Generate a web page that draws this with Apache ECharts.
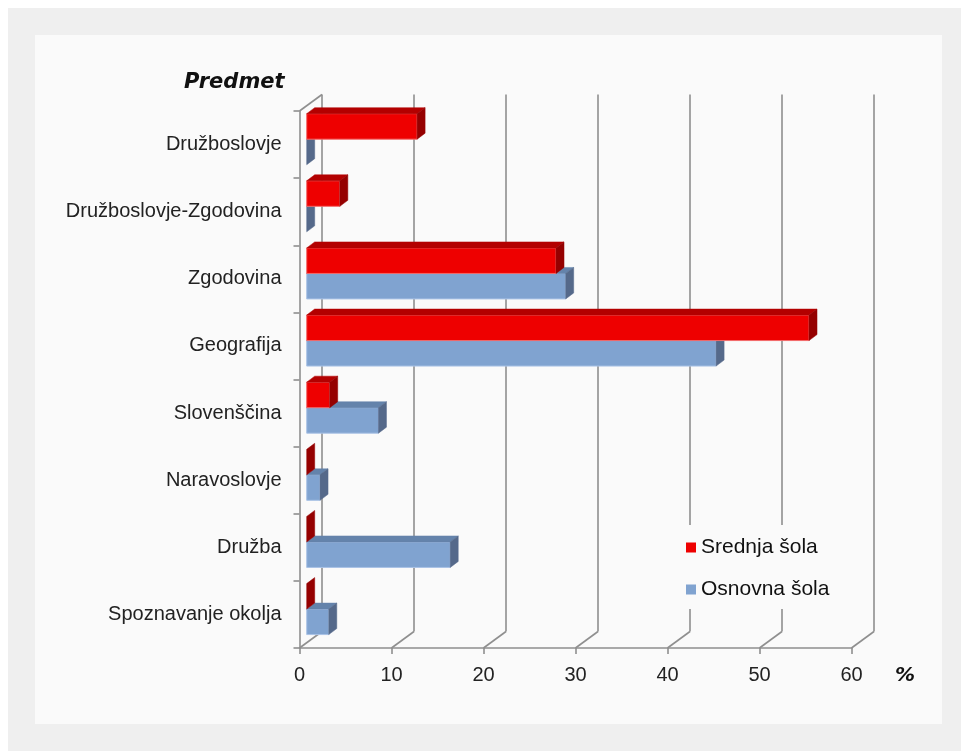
<!DOCTYPE html>
<html>
<head>
<meta charset="utf-8">
<script src="https://cdn.jsdelivr.net/npm/echarts@6/dist/echarts.min.js"></script>
<style>
html,body{margin:0;padding:0;background:#ffffff;}
#bg{position:absolute;left:8px;top:8px;width:953px;height:743px;background:#efefef;}
#chart{position:absolute;left:0;top:0;width:961px;height:751px;}
</style>
</head>
<body>
<div id="bg"></div>
<div id="chart"></div>
<script>
const categories = ['Družboslovje','Družboslovje-Zgodovina','Zgodovina','Geografija','Slovenščina','Naravoslovje','Družba','Spoznavanje okolja'];
const seriesNames = ['Srednja šola','Osnovna šola'];
const srednjaSola = [12.0, 3.6, 27.1, 54.6, 2.5, 0, 0, 0];
const osnovnaSola = [0, 0, 28.15, 44.5, 7.8, 1.45, 15.6, 2.4];
const xTicks = [0, 10, 20, 30, 40, 50, 60];
const yTitle = 'Predmet';
const xUnit = '%';

const GRID = {left: 299.5, top: 111, width: 552, height: 537};
const WALL_D = [22.5, -16.5];   // depth of the chart walls
const BAR_DX = 7.2;             // bar zero offset from front axis
const BAR_D = [8, -6];          // depth of the bars
const BAR_TOP = 0.04, BAR_H = 0.38;
const GRID_COLOR = '#8f8f8f';

const styles = [
  {front:'#ee0000', top:'#b30000', side:'#950000', stroke:'#f36a6a'},
  {front:'#80a3d0', top:'#6483ab', side:'#55698a', stroke:'#aac3e6'}
];

function makeBarRender(idx) {
  return function(params, api) {
    const v = api.value(0), c = api.value(1);
    const p0 = api.coord([0, c]);
    const p1 = api.coord([v, c]);
    const band = api.size([0, 1])[1];
    const x0 = p0[0] + BAR_DX, x1 = p1[0] + BAR_DX;
    const yTop = p0[1] - band / 2 + band * BAR_TOP + idx * band * BAR_H;
    const yBot = yTop + band * BAR_H;
    const s = styles[idx];
    const dx = BAR_D[0], dy = BAR_D[1];
    const children = [];
    if (x1 - x0 > 0.5) {
      children.push({type:'rect', shape:{x:x0, y:yTop, width:x1-x0, height:yBot-yTop},
        style:{fill:s.front, stroke:s.stroke, lineWidth:1}});
      children.push({type:'polygon', shape:{points:[[x0,yTop],[x0+dx,yTop+dy],[x1+dx,yTop+dy],[x1,yTop]]},
        style:{fill:s.top, stroke:s.top, lineWidth:0.5}});
    }
    children.push({type:'polygon', shape:{points:[[x1,yTop],[x1+dx,yTop+dy],[x1+dx,yBot+dy],[x1,yBot]]},
      style:{fill:s.side, stroke:s.side, lineWidth:0.5}});
    return {type:'group', children: children};
  };
}

function wallRender(params, api) {
  const n = categories.length;
  const children = [];
  const ls = {stroke: GRID_COLOR, lineWidth: 1.6, fill: null};
  const yTopFront = api.coord([0, 0])[1] - api.size([0,1])[1] / 2;
  const yBotFront = api.coord([0, n - 1])[1] + api.size([0,1])[1] / 2;
  xTicks.forEach(function(t) {
    const fx = api.coord([t, 0])[0];
    const bx = fx + WALL_D[0];
    children.push({type:'line', shape:{x1:bx, y1:yTopFront + WALL_D[1], x2:bx, y2:yBotFront + WALL_D[1]}, style:ls});
    children.push({type:'line', shape:{x1:fx, y1:yBotFront, x2:bx, y2:yBotFront + WALL_D[1]}, style:ls});
  });
  const fx0 = api.coord([0, 0])[0];
  children.push({type:'line', shape:{x1:fx0, y1:yTopFront, x2:fx0 + WALL_D[0], y2:yTopFront + WALL_D[1]}, style:ls});
  return {type:'group', children: children};
}

const chart = echarts.init(document.getElementById('chart'), null, {renderer:'canvas'});
const labelFont = 'Liberation Sans, Arial, sans-serif';
chart.setOption({
  backgroundColor: 'transparent',
  animation: false,
  graphic: [
    {type:'rect', left:35, top:35, z:-10, shape:{width:907, height:689}, style:{fill:'#fafafa'}},
    {type:'text', left:184, top:72, z:10, style:{text:yTitle, font:'italic bold 21px "DejaVu Sans"', fill:'#111'}},
    {type:'text', left:895, top:666, z:10, style:{text:xUnit, font:'italic bold 20px "DejaVu Sans"', fill:'#111'}}
  ],
  grid: GRID,
  legend: {
    orient: 'vertical', left: 680, top: 525,
    data: seriesNames,
    icon: 'rect', itemWidth: 10, itemHeight: 10, itemGap: 21,
    backgroundColor: '#fafafa', padding: [12, 8, 9, 6],
    textStyle: {fontSize: 21, fontFamily: labelFont, color: '#111', lineHeight: 20, padding:[0,0,0,0]},
    selectedMode: false
  },
  xAxis: {
    type: 'value', min: xTicks[0], max: xTicks[xTicks.length-1], interval: 10,
    axisLine: {show: true, lineStyle: {color: GRID_COLOR, width: 1.6}},
    axisTick: {show: true, length: 6, lineStyle: {color: GRID_COLOR, width: 1.6}},
    axisLabel: {fontSize: 20, fontFamily: labelFont, color: '#222', margin: 17},
    splitLine: {show: false}
  },
  yAxis: {
    type: 'category', data: categories, inverse: true,
    axisLine: {show: true, lineStyle: {color: GRID_COLOR, width: 1.6}},
    axisTick: {show: true, length: 6, lineStyle: {color: GRID_COLOR, width: 1.6}},
    axisLabel: {fontSize: 20, fontFamily: labelFont, color: '#222', margin: 18},
    splitLine: {show: false}
  },
  series: [
    {type:'custom', name:'walls', renderItem: wallRender, data:[[0,0]], encode:{x:0,y:1}, silent:true, z:1},
    {type:'custom', name: seriesNames[1], itemStyle:{color: styles[1].front},
      renderItem: makeBarRender(1), encode:{x:0,y:1}, z:2,
      data: osnovnaSola.map(function(v,i){return [v,i];})},
    {type:'custom', name: seriesNames[0], itemStyle:{color: styles[0].front},
      renderItem: makeBarRender(0), encode:{x:0,y:1}, z:3,
      data: srednjaSola.map(function(v,i){return [v,i];})}
  ]
});
</script>
</body>
</html>
